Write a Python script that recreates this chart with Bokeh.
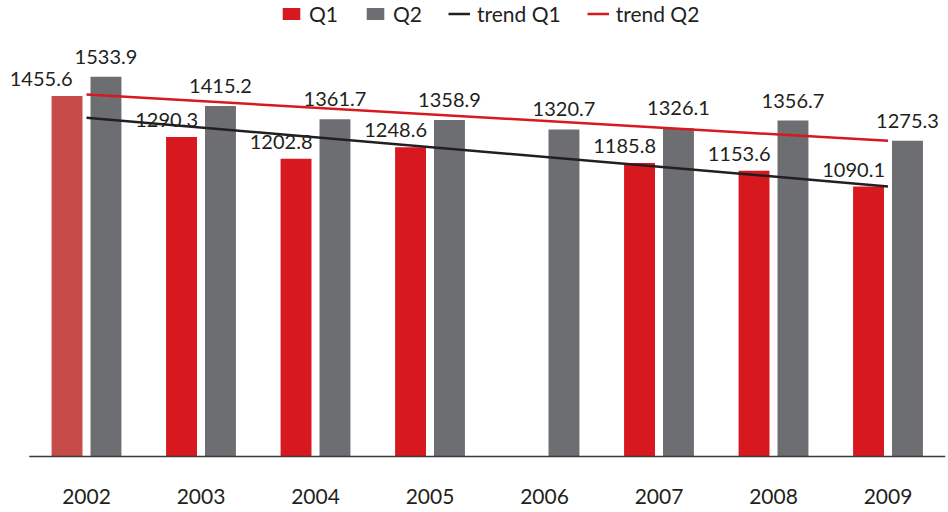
from bokeh.plotting import figure
from bokeh.models import ColumnDataSource, Legend, LegendItem, Range1d
from bokeh.core.properties import value
from bokeh.embed import file_html
from bokeh.resources import INLINE

# ---- data ----
years = ["2002", "2003", "2004", "2005", "2006", "2007", "2008", "2009"]
q1 = [1455.6, 1290.3, 1202.8, 1248.6, None, 1185.8, 1153.6, 1090.1]
q2 = [1533.9, 1415.2, 1361.7, 1358.9, 1320.7, 1326.1, 1356.7, 1275.3]
trend_years = ["2002", "2009"]
trend_q1 = [1368.4, 1090.8]
trend_q2 = [1462.2, 1275.0]

RED = "#D7191F"
RED_LIGHT = "#C64C4A"
GRAY = "#6D6E71"
DARK = "#231F20"
FONT = value("Lato")

pos = {y: i for i, y in enumerate(years)}
off = 0.17
bw = 0.27

q1_years = [y for y, v in zip(years, q1) if v is not None]
q1_vals = [v for v in q1 if v is not None]
q1_src = ColumnDataSource(dict(
    x=[pos[y] - off for y in q1_years],
    xr=[pos[y] - off + bw / 2 for y in q1_years],
    val=q1_vals,
    txt=["%.1f" % v for v in q1_vals],
    color=[RED_LIGHT if i == 0 else RED for i in range(len(q1_vals))],
    xoff=[-10 if i == 0 else 1 for i in range(len(q1_vals))],
))
q2_src = ColumnDataSource(dict(
    x=[pos[y] + off for y in years],
    val=q2,
    txt=["%.1f" % v for v in q2],
))
yr_src = ColumnDataSource(dict(x=[pos[y] for y in years], y=[0] * len(years), txt=years))
axis_src = ColumnDataSource(dict(x0=[-0.5], x1=[len(years) - 0.5], y=[0]))

PX = 114.5            # pixels per category
PX_PER_UNIT = 0.2476  # pixels per value unit
W, H = 946, 510
BASE = 456            # baseline, pixels from top
x_start = -86 / PX
x_end = x_start + W / PX
y_end = BASE / PX_PER_UNIT
y_start = -(H - BASE) / PX_PER_UNIT

p = figure(x_range=Range1d(x_start, x_end), y_range=Range1d(y_start, y_end),
           width=W, height=H, output_backend="svg", toolbar_location=None,
           min_border_left=0, min_border_right=0, min_border_top=0, min_border_bottom=0)

r_q1 = p.vbar(x="x", top="val", width=bw, source=q1_src,
              fill_color="color", line_color=None)
r_q2 = p.vbar(x="x", top="val", width=bw, source=q2_src,
              fill_color=GRAY, line_color=None)

# baseline (category axis line)
p.segment(x0="x0", x1="x1", y0="y", y1="y", source=axis_src,
          line_color="#3a3a3a", line_width=1.5)

tx = [pos[y] for y in trend_years]
r_t1 = p.line(x=tx, y=trend_q1, line_color=DARK, line_width=2.5)
r_t2 = p.line(x=tx, y=trend_q2, line_color=RED, line_width=2.5)

p.text(x="xr", y="val", text="txt", source=q1_src, text_align="right",
       text_baseline="alphabetic", x_offset="xoff", y_offset=-17,
       text_font=FONT, text_font_size="20px", text_color=DARK)
p.text(x="x", y="val", text="txt", source=q2_src, text_align="center",
       text_baseline="alphabetic", y_offset=-20,
       text_font=FONT, text_font_size="20px", text_color=DARK)

# category labels under the baseline
p.text(x="x", y="y", text="txt", source=yr_src, text_align="center",
       text_baseline="alphabetic", y_offset=40,
       text_font=FONT, text_font_size="21px", text_color=DARK)

legend = Legend(items=[
    LegendItem(label="Q1", renderers=[r_q1], index=1),
    LegendItem(label="Q2", renderers=[r_q2]),
    LegendItem(label="trend Q1", renderers=[r_t1]),
    LegendItem(label="trend Q2", renderers=[r_t2]),
], orientation="horizontal", location=(280, H - 26))
legend.glyph_width = 22
legend.glyph_height = 15
legend.label_standoff = 7
legend.spacing = 26
legend.padding = 0
legend.margin = 0
legend.label_text_font = "Lato"
legend.label_text_font_size = "21px"
legend.label_text_color = DARK
legend.background_fill_alpha = 0
legend.border_line_alpha = 0
p.add_layout(legend, "center")

p.xaxis.visible = False
p.yaxis.visible = False
p.xgrid.grid_line_color = None
p.ygrid.grid_line_color = None
p.outline_line_color = None

open("out.html", "w").write(file_html(p, INLINE))
